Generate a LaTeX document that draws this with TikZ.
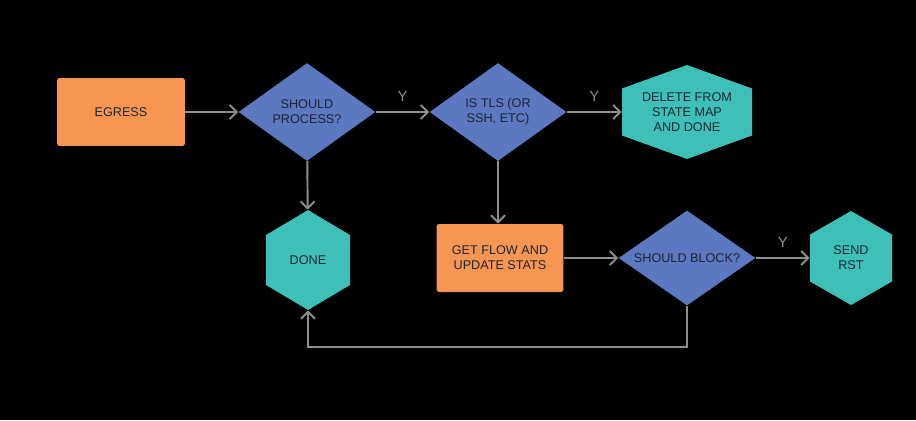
\documentclass[tikz,border=0pt]{standalone}
\usepackage{fontspec}
\setmainfont{Liberation Sans}
\usetikzlibrary{shapes.geometric,arrows.meta,positioning}
\definecolor{boxorange}{HTML}{F79552}
\definecolor{askblue}{HTML}{5B78C0}
\definecolor{endteal}{HTML}{3EBFB8}
\definecolor{flowgray}{HTML}{8E8E8E}
\definecolor{inkdark}{HTML}{1C2633}
\tikzset{
    base/.style={
           draw=none,
           inner sep=0pt,
           align=center,
           text=inkdark,
           font=\fontsize{7.2}{8.6}\selectfont,
           },
    action/.style={base, rectangle, rounded corners=1.5pt, fill=boxorange},
    question/.style={base, diamond, aspect=1.4, fill=askblue},
    finish/.style={base, rectangle},
    flow/.style={draw=flowgray, line width=1.1pt, -{Straight Barb[length=4pt,width=8pt]}},
    tag/.style={text=flowgray, font=\fontsize{8.5}{10}\selectfont},
}
% hexagon with pointed top and bottom: name, x, y, half width, half height, text
\newcommand{\hexnode}[6]{
  \fill[endteal] (#2,#3-#5) -- (#2+#4,#3-#5/2) -- (#2+#4,#3+#5/2) -- (#2,#3+#5)
     -- (#2-#4,#3+#5/2) -- (#2-#4,#3-#5/2) -- cycle;
  \node[finish, minimum width=2*#4*0.02cm, minimum height=2*#5*0.02cm] (#1) at (#2,#3) {#6};
}

\begin{document}
\begin{tikzpicture}[x=0.02cm, y=-0.02cm]
  \fill[black] (0,0) rectangle (916,420);
  \useasboundingbox (0,0) rectangle (916,420);

  % top row
  \node[action, minimum width=2.56cm, minimum height=1.36cm] (EGRESS) at (121,112) {EGRESS};
  \node[question, minimum width=2.74cm, minimum height=1.96cm] (PROCESS) at (307,112) {SHOULD\\PROCESS?};
  \node[question, minimum width=2.74cm, minimum height=1.96cm] (TLS) at (498,112) {IS TLS (OR\\SSH, ETC)};
  \hexnode{DELETE}{687}{112}{65}{47}{DELETE FROM\\STATE MAP\\AND DONE}

  % bottom row
  \hexnode{DONE}{308}{260}{42}{50}{DONE}
  \node[action, minimum width=2.54cm, minimum height=1.36cm] (STATS) at (500,258) {GET FLOW AND\\UPDATE STATS};
  \node[question, minimum width=2.74cm, minimum height=1.9cm] (BLOCK) at (687,258) {SHOULD BLOCK?};
  \hexnode{RST}{851}{258}{41}{47}{SEND\\RST}

  \coordinate (loopA) at (687,347);
  \coordinate (loopB) at (308,347);

  \draw[flow] (EGRESS) -- (PROCESS);
  \draw[flow] (PROCESS) -- node[tag, above=2pt] {Y} (TLS);
  \draw[flow] (TLS) -- node[tag, above=2pt] {Y} (DELETE);
  \draw[flow] (PROCESS) -- (DONE);
  \draw[flow] (TLS.south) -- (TLS.south |- STATS.north);
  \draw[flow] (STATS) -- (BLOCK);
  \draw[flow] (BLOCK) -- node[tag, above=2pt] {Y} (RST);
  \draw[flow] (BLOCK.south) -- (loopA) -- (loopB) -- (DONE.south);
\end{tikzpicture}
\end{document}
